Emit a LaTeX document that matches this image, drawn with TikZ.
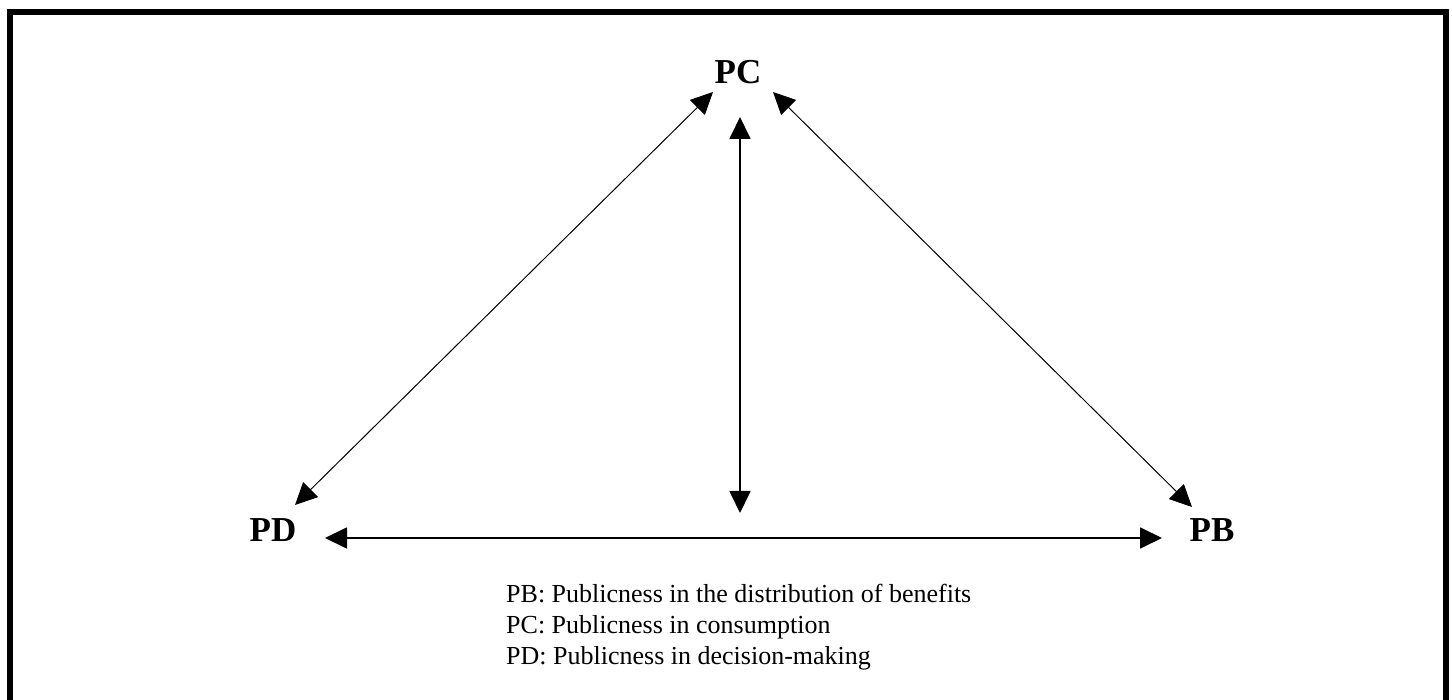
\documentclass[tikz,border=0pt]{standalone}
\usepackage{fontspec}
\setmainfont{Liberation Serif}
\usetikzlibrary{arrows.meta, positioning}

\begin{document}
\begin{tikzpicture}[
    x=1pt, y=-1pt,
    every node/.style={inner sep=0pt},
    corner/.style={font=\fontsize{35}{35}\selectfont\bfseries},
    legend/.style={font=\fontsize{26}{31}\selectfont, anchor=base west},
    line/.style={draw, {Triangle[length=22pt,width=21pt]}-{Triangle[length=22pt,width=21pt]}, line width=1pt},
    frame/.style={draw, line width=6pt}
]
    \useasboundingbox (0,0) rectangle (1452,700);
    \draw[frame] (10,700) |- (1445.5,12) -- (1445.5,700);

    % Corners
    \node[corner] (pc) at (738,72) {PC};
    \node[corner] (pd) at (273,530) {PD};
    \node[corner] (pb) at (1212,530) {PB};

    % Arrow ends
    \coordinate (pcL) at (713,92);
    \coordinate (pcR) at (773,92);
    \coordinate (pcD) at (740,117);
    \coordinate (pdU) at (295,505);
    \coordinate (pdR) at (325,538);
    \coordinate (pbU) at (1192,507);
    \coordinate (pbL) at (1162,538);
    \coordinate (mid) at (740,513);

    % Connections
    \path[line] (pdU) -- (pcL);
    \path[line] (pcR) -- (pbU);
    \path[line, line width=1.8pt] (pcD) -- (mid);
    \path[line, line width=1.8pt] (pdR) -- (pbL);

    % Legend
    \node[legend] (legpb) at (506,602) {PB: Publicness in the distribution of benefits};
    \node[legend] (legpc) at (506,633) {PC: Publicness in consumption};
    \node[legend] (legpd) at (506,664) {PD: Publicness in decision-making};
\end{tikzpicture}
\end{document}
